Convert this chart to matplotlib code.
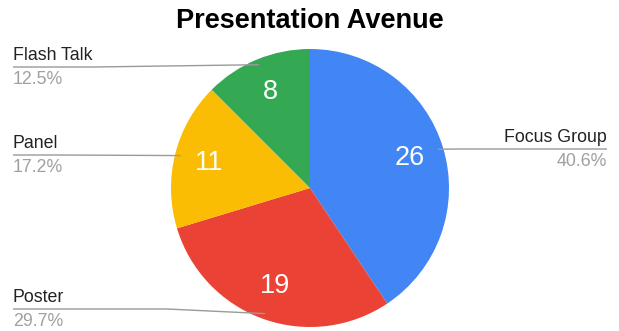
import numpy as np
import matplotlib
matplotlib.use("Agg")
import matplotlib.pyplot as plt

categories = ["Focus Group", "Poster", "Panel", "Flash Talk"]
counts = [26, 19, 11, 8]
colors = ["#4285F4", "#EA4335", "#FBBC04", "#34A853"]
title = "Presentation Avenue"

plt.rcParams['font.family'] = ['Liberation Sans', 'DejaVu Sans']

W, H = 619, 331
fig = plt.figure(figsize=(W / 100, H / 100), dpi=100)
ax = fig.add_axes([0, 0, 1, 1])

def Y(py):
    return H - py

cx, cy, R = 310, Y(188), 139
total = sum(counts)

wedges, _, autotexts = ax.pie(
    counts, colors=colors, startangle=90, counterclock=False,
    center=(cx, cy), radius=R, frame=True,
    autopct=lambda p: f"{int(round(p * total / 100))}",
    pctdistance=0.75,
    wedgeprops=dict(linewidth=0),
    textprops=dict(color="white", fontsize=19.5),
)
ax.set_xlim(0, W)
ax.set_ylim(0, H)
ax.set_aspect('equal')
ax.axis('off')

fig.text(0.5, 1 - 21 / H, title, ha='center', va='center',
         fontsize=19.5, fontweight='bold', color='black')

# label layout: (x of text, line y in px, side, knee x in px)
layout = {
    "Focus Group": (607, 149, 'right', 460),
    "Poster": (13, 309, 'left', 167),
    "Panel": (13, 155, 'left', 60),
    "Flash Talk": (13, 67, 'left', 93),
}

cum = 0
for cat, val, w in zip(categories, counts, wedges):
    mid = 90 - 360 * (cum + val / 2) / total
    cum += val
    ax_x = cx + 0.96 * R * np.cos(np.radians(mid))
    ax_y = cy + 0.96 * R * np.sin(np.radians(mid))
    tx, ly, side, knee = layout[cat]
    ly = Y(ly)
    ax.plot([tx, knee, ax_x], [ly, ly, ax_y], color="#9a9a9a", lw=1,
            solid_capstyle='butt', solid_joinstyle='round')
    ha = 'left' if side == 'left' else 'right'
    ax.text(tx, ly + 3, cat, ha=ha, va='bottom', fontsize=12.8, color="#222222")
    pct = 100 * val / total
    ax.text(tx, ly - 4, f"{pct:.1f}%", ha=ha, va='top', fontsize=12.8, color="#a0a0a0")

fig.savefig("out.png", dpi=100)
